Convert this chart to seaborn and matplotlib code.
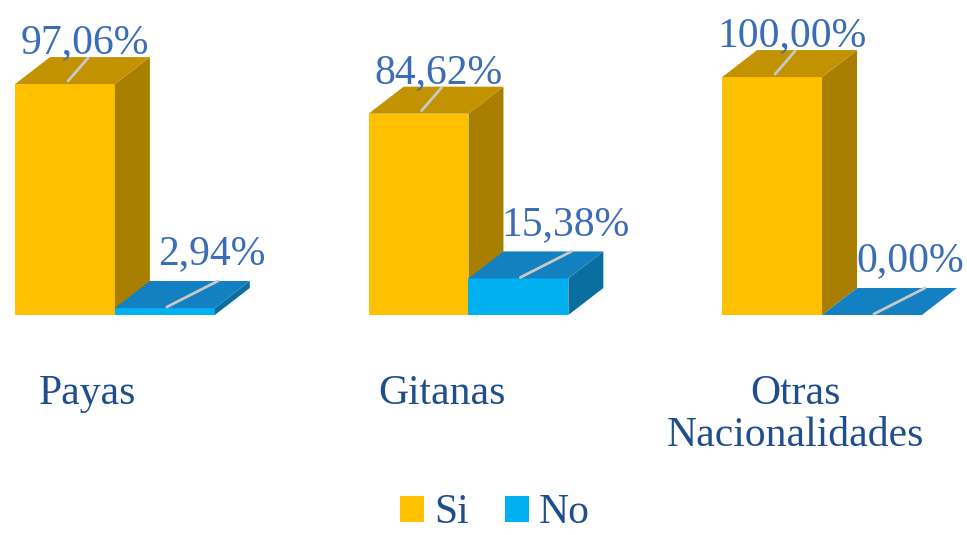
import numpy as np
import pandas as pd
import matplotlib
matplotlib.use('Agg')
import matplotlib.pyplot as plt
import matplotlib.transforms as mtransforms
from matplotlib.patches import Polygon, Patch
import seaborn as sns

# datos
grupos = ['Payas', 'Gitanas', 'Otras\nNacionalidades']
respuestas = ['Si', 'No']
valores_si = [97.06, 84.62, 100.00]
valores_no = [2.94, 15.38, 0.00]

df = pd.DataFrame({
    'grupo': grupos * 2,
    'respuesta': ['Si'] * 3 + ['No'] * 3,
    'valor': valores_si + valores_no,
})

# colores: frente, tapa, lateral
col_front = {'Si': '#FFC000', 'No': '#00B0F0'}
col_top = {'Si': '#C29200', 'No': '#1380C2'}
col_side = {'Si': '#A87F00', 'No': '#0A6EA0'}
txt_val = '#3A6DB5'
txt_cat = '#1F4E8C'

sns.set_style('white')
plt.rcParams['font.family'] = ['Liberation Serif', 'DejaVu Serif']

fig = plt.figure(figsize=(9.67, 5.35), dpi=100)
ax = fig.add_axes([0, 0.4112, 1, 0.5888])

sns.barplot(data=df, x='grupo', y='valor', hue='respuesta', order=grupos,
            hue_order=respuestas, palette=[col_front['Si'], col_front['No']],
            width=0.565, gap=0, saturation=1, legend=False, ax=ax)

ax.set_xlim(-0.325, 2.41)
ax.set_ylim(0, 132.4)
sns.despine(ax=ax, left=True, bottom=True)
ax.set_yticks([])
ax.set_xlabel('')
ax.set_ylabel('')
ax.tick_params(axis='x', length=0, pad=43, labelsize=30, labelcolor=txt_cat)

# desplazar etiquetas de categoria un poco a la izquierda
shift = mtransforms.ScaledTranslation(-0.27, 0, fig.dpi_scale_trans)
for lab in ax.get_xticklabels():
    lab.set_transform(lab.get_transform() + shift)
    lab.set_linespacing(1.1)

fig.canvas.draw()
renderer = fig.canvas.get_renderer()
to_data = ax.transData.inverted()
dx, dy = 35, 27  # profundidad en pixeles
fig_w = fig.bbox.width

for k, (resp, cont) in enumerate(zip(respuestas, ax.containers)):
    for bar, val in zip(cont.patches, df[df['respuesta'] == resp]['valor']):
        bar.set_zorder(2 + k)
        bar.set_edgecolor('none')
        x0, y0 = ax.transData.transform((bar.get_x(), 0))
        x1, y1 = ax.transData.transform((bar.get_x() + bar.get_width(), val))
        top = np.array([[x0, y1], [x1, y1], [x1 + dx, y1 + dy], [x0 + dx, y1 + dy]])
        side = np.array([[x1, y0], [x1 + dx, y0 + dy], [x1 + dx, y1 + dy], [x1, y1]])
        ax.add_patch(Polygon(to_data.transform(side), closed=True,
                             facecolor=col_side[resp], edgecolor='none', zorder=2 + k))
        ax.add_patch(Polygon(to_data.transform(top), closed=True,
                             facecolor=col_top[resp], edgecolor='none', zorder=2 + k))
        # linea guia y etiqueta
        fc = (x0 + x1) / 2
        if resp == 'Si':
            lx, ly = fc + dx - 15, y1 + dy + 14
            l0 = (fc + 3, y1 + 3)
            l1 = (fc + dx - 12, y1 + dy - 1)
        else:
            lx, ly = fc + dx + 12, y1 + dy + 27
            l0 = (fc + 2, y1 + 1)
            l1 = (fc + dx + 18, y1 + dy)
        seg = to_data.transform(np.array([l0, l1]))
        ax.plot(seg[:, 0], seg[:, 1], color='#C8C8C8', lw=2, zorder=2 + k, solid_capstyle='round')
        tx, ty = to_data.transform((lx, ly))
        t = ax.text(tx, ty, f'{val:.2f}%'.replace('.', ','), ha='center', va='center',
                    fontsize=30, color=txt_val, zorder=5, clip_on=False)
        # que no se salga por la derecha
        ext = t.get_window_extent(renderer)
        if ext.x1 > fig_w - 3:
            t.set_x(to_data.transform((lx - (ext.x1 - fig_w + 3), ly))[0])

handles = [Patch(facecolor=col_front['Si'], edgecolor='none', label='Si'),
           Patch(facecolor=col_front['No'], edgecolor='none', label='No')]
leg = fig.legend(handles=handles, loc='lower center', bbox_to_anchor=(0.512, -0.065), ncol=2,
                 frameon=False, fontsize=30, handlelength=0.58, handleheight=0.58,
                 handletextpad=0.25, columnspacing=0.85)
for t in leg.get_texts():
    t.set_color(txt_cat)

fig.savefig('out.png', dpi=100)
